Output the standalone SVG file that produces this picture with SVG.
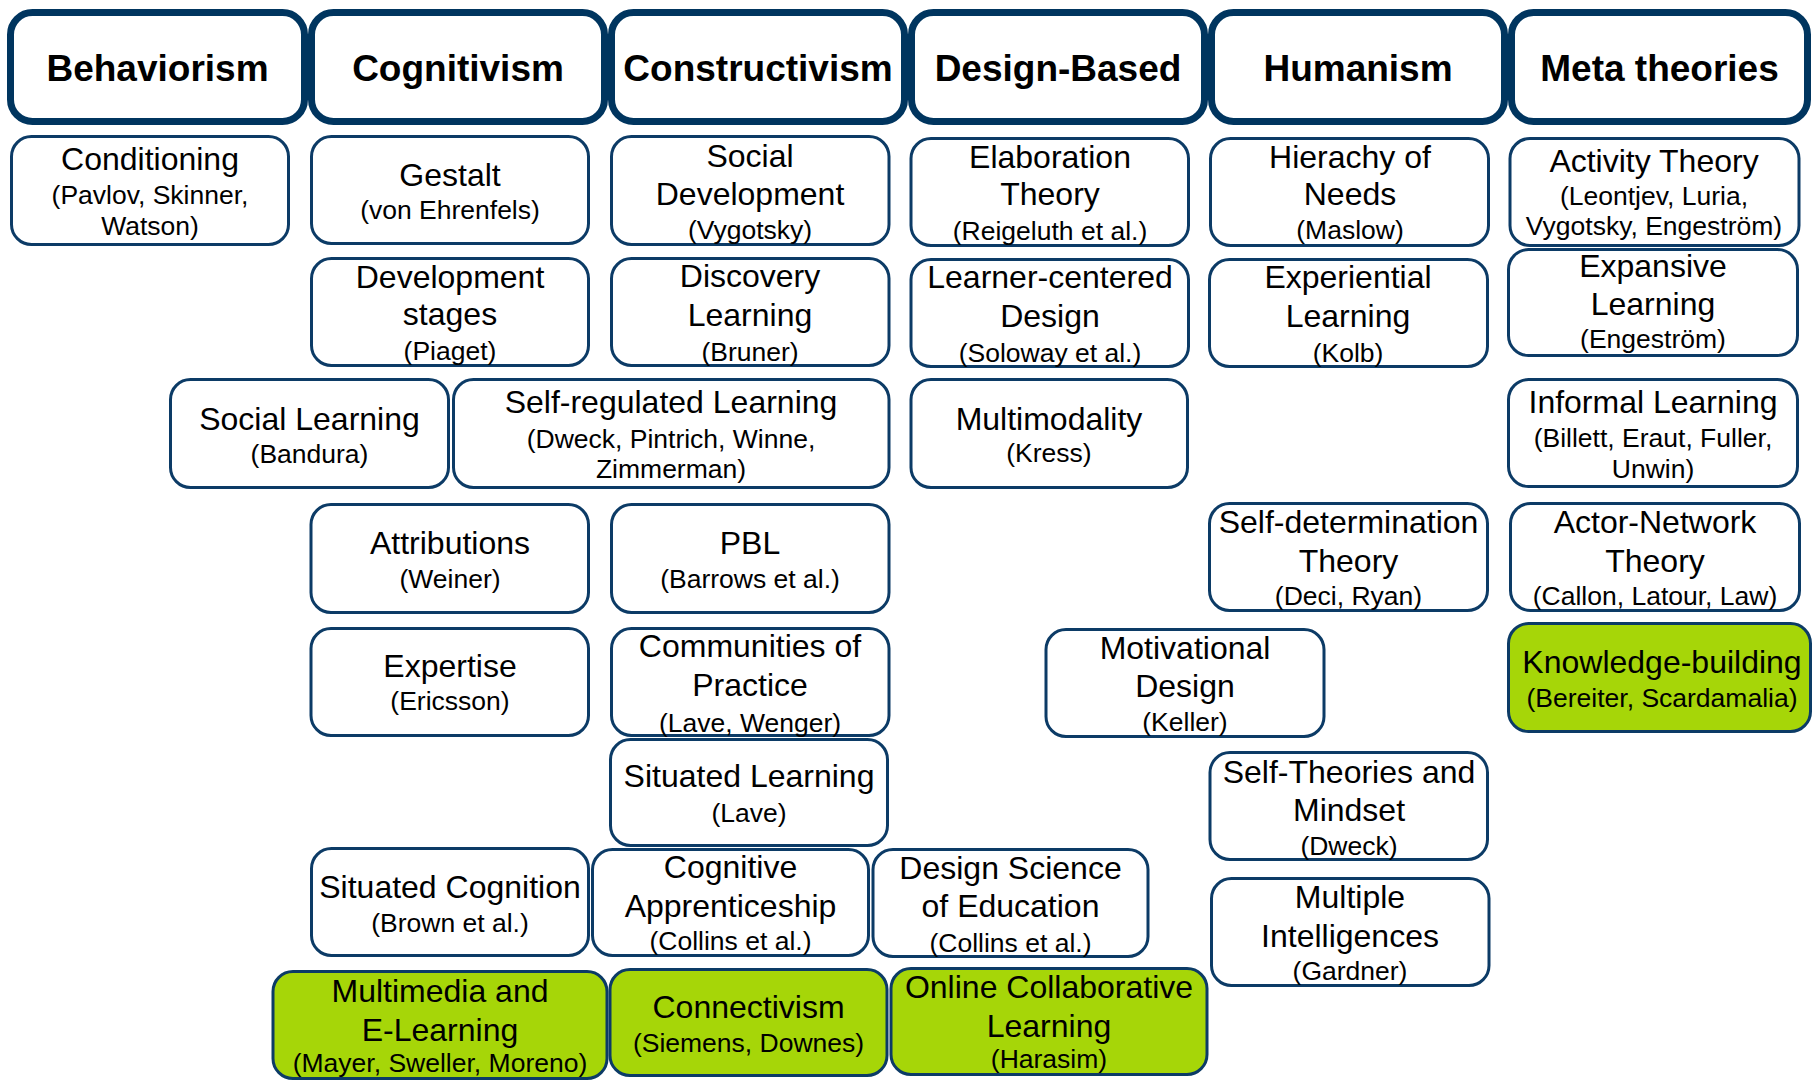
<svg xmlns="http://www.w3.org/2000/svg" width="1814" height="1080" viewBox="0 0 1814 1080">
<style>
.hdr rect{fill:#fff;stroke:#00355f;stroke-width:7}
.hdr text{font-family:"Liberation Sans",Arial,sans-serif;font-weight:bold;font-size:37px;text-anchor:middle;fill:#000}
.n rect{fill:#fff;stroke:#0c3b66;stroke-width:3}
.n.g rect{fill:#a6d608}
.n text{font-family:"Liberation Sans",Arial,sans-serif;text-anchor:middle;fill:#000}
.t{font-size:32px}
.s{font-size:26.5px}
</style>
<rect width="1814" height="1080" fill="#fff"/>
<g id="headers">
<g id="h-behaviorism" class="hdr"><rect x="10.5" y="12.5" width="294" height="109" rx="22"/><text x="157.5" y="81">Behaviorism</text></g>
<g id="h-cognitivism" class="hdr"><rect x="311.5" y="12.5" width="293" height="109" rx="22"/><text x="458" y="81">Cognitivism</text></g>
<g id="h-constructivism" class="hdr"><rect x="611.5" y="12.5" width="293" height="109" rx="22"/><text x="758" y="81">Constructivism</text></g>
<g id="h-design" class="hdr"><rect x="911.5" y="12.5" width="293" height="109" rx="22"/><text x="1058" y="81">Design-Based</text></g>
<g id="h-humanism" class="hdr"><rect x="1211.5" y="12.5" width="293" height="109" rx="22"/><text x="1358" y="81">Humanism</text></g>
<g id="h-meta" class="hdr"><rect x="1511.5" y="12.5" width="296" height="109" rx="22"/><text x="1659.5" y="81">Meta theories</text></g>
</g>
<g id="connectors"></g>
<g id="n-conditioning" class="n"><rect x="11.5" y="136.5" width="277" height="108" rx="20"/><text class="t" x="150" y="170">Conditioning</text><text class="s" x="150" y="204">(Pavlov, Skinner,</text><text class="s" x="150" y="235">Watson)</text></g>
<g id="n-gestalt" class="n"><rect x="311.5" y="136.5" width="277" height="107" rx="20"/><text class="t" x="450" y="186">Gestalt</text><text class="s" x="450" y="219">(von Ehrenfels)</text></g>
<g id="n-development" class="n"><rect x="311.5" y="258.5" width="277" height="107" rx="20"/><text class="t" x="450" y="288">Development</text><text class="t" x="450" y="325">stages</text><text class="s" x="450" y="360">(Piaget)</text></g>
<g id="n-socialdev" class="n"><rect x="611.5" y="136.5" width="277.5" height="108" rx="20"/><text class="t" x="750" y="167">Social</text><text class="t" x="750" y="205">Development</text><text class="s" x="750" y="239">(Vygotsky)</text></g>
<g id="n-discovery" class="n"><rect x="611.5" y="258.5" width="277.5" height="107" rx="20"/><text class="t" x="750" y="287">Discovery</text><text class="t" x="750" y="326">Learning</text><text class="s" x="750" y="361">(Bruner)</text></g>
<g id="n-elaboration" class="n"><rect x="911" y="138.5" width="277.5" height="107" rx="20"/><text class="t" x="1050" y="168">Elaboration</text><text class="t" x="1050" y="205">Theory</text><text class="s" x="1050" y="240">(Reigeluth et al.)</text></g>
<g id="n-learnercentered" class="n"><rect x="911" y="259.5" width="277.5" height="107" rx="20"/><text class="t" x="1050" y="288">Learner-centered</text><text class="t" x="1050" y="327">Design</text><text class="s" x="1050" y="362">(Soloway et al.)</text></g>
<g id="n-hierarchy" class="n"><rect x="1210.5" y="138.5" width="278" height="107" rx="20"/><text class="t" x="1350" y="168">Hierachy of</text><text class="t" x="1350" y="205">Needs</text><text class="s" x="1350" y="239">(Maslow)</text></g>
<g id="n-experiential" class="n"><rect x="1209.5" y="259.5" width="278" height="107" rx="20"/><text class="t" x="1348" y="288">Experiential</text><text class="t" x="1348" y="327">Learning</text><text class="s" x="1348" y="362">(Kolb)</text></g>
<g id="n-activity" class="n"><rect x="1510" y="138.5" width="289" height="107" rx="20"/><text class="t" x="1654" y="172">Activity Theory</text><text class="s" x="1654" y="205">(Leontjev, Luria,</text><text class="s" x="1654" y="235">Vygotsky, Engeström)</text></g>
<g id="n-expansive" class="n"><rect x="1508.5" y="249.5" width="289" height="106" rx="20"/><text class="t" x="1653" y="277">Expansive</text><text class="t" x="1653" y="315">Learning</text><text class="s" x="1653" y="348">(Engeström)</text></g>
<g id="n-sociallearning" class="n"><rect x="170.5" y="379.5" width="278" height="108" rx="20"/><text class="t" x="309.5" y="430">Social Learning</text><text class="s" x="309.5" y="463">(Bandura)</text></g>
<g id="n-selfregulated" class="n"><rect x="453.5" y="379.5" width="435.5" height="108" rx="20"/><text class="t" x="671" y="413">Self-regulated Learning</text><text class="s" x="671" y="448">(Dweck, Pintrich, Winne,</text><text class="s" x="671" y="478">Zimmerman)</text></g>
<g id="n-multimodality" class="n"><rect x="911" y="379.5" width="276.5" height="108" rx="20"/><text class="t" x="1049" y="430">Multimodality</text><text class="s" x="1049" y="462">(Kress)</text></g>
<g id="n-informal" class="n"><rect x="1508.5" y="379.5" width="289" height="107" rx="20"/><text class="t" x="1653" y="413">Informal Learning</text><text class="s" x="1653" y="447">(Billett, Eraut, Fuller,</text><text class="s" x="1653" y="478">Unwin)</text></g>
<g id="n-attributions" class="n"><rect x="311" y="504.5" width="277.5" height="108" rx="20"/><text class="t" x="450" y="554">Attributions</text><text class="s" x="450" y="588">(Weiner)</text></g>
<g id="n-pbl" class="n"><rect x="611.5" y="504.5" width="277.5" height="108" rx="20"/><text class="t" x="750" y="554">PBL</text><text class="s" x="750" y="588">(Barrows et al.)</text></g>
<g id="n-selfdetermination" class="n"><rect x="1209.5" y="503.5" width="278" height="107" rx="20"/><text class="t" x="1348.5" y="533">Self-determination</text><text class="t" x="1348.5" y="572">Theory</text><text class="s" x="1348.5" y="605">(Deci, Ryan)</text></g>
<g id="n-actornetwork" class="n"><rect x="1510.5" y="503.5" width="289" height="107" rx="20"/><text class="t" x="1655" y="533">Actor-Network</text><text class="t" x="1655" y="572">Theory</text><text class="s" x="1655" y="605">(Callon, Latour, Law)</text></g>
<g id="n-expertise" class="n"><rect x="311" y="628.5" width="277.5" height="107" rx="20"/><text class="t" x="450" y="677">Expertise</text><text class="s" x="450" y="710">(Ericsson)</text></g>
<g id="n-communities" class="n"><rect x="611.5" y="628.5" width="277.5" height="107" rx="20"/><text class="t" x="750" y="657">Communities of</text><text class="t" x="750" y="696">Practice</text><text class="s" x="750" y="732">(Lave, Wenger)</text></g>
<g id="n-motivational" class="n"><rect x="1046" y="629.5" width="278" height="107" rx="20"/><text class="t" x="1185" y="659">Motivational</text><text class="t" x="1185" y="697">Design</text><text class="s" x="1185" y="731">(Keller)</text></g>
<g id="n-knowledge" class="n g"><rect x="1508.5" y="623.5" width="302" height="108" rx="20"/><text class="t" x="1662" y="673">Knowledge-building</text><text class="s" x="1662" y="707">(Bereiter, Scardamalia)</text></g>
<g id="n-situatedlearning" class="n"><rect x="610.5" y="739.5" width="277" height="106" rx="20"/><text class="t" x="749" y="787">Situated Learning</text><text class="s" x="749" y="822">(Lave)</text></g>
<g id="n-selftheories" class="n"><rect x="1210" y="752.5" width="277.5" height="107" rx="20"/><text class="t" x="1349" y="783">Self-Theories and</text><text class="t" x="1349" y="821">Mindset</text><text class="s" x="1349" y="855">(Dweck)</text></g>
<g id="n-situatedcognition" class="n"><rect x="311.5" y="848.5" width="277" height="107" rx="20"/><text class="t" x="450" y="898">Situated Cognition</text><text class="s" x="450" y="932">(Brown et al.)</text></g>
<g id="n-cognitiveapp" class="n"><rect x="592.5" y="849.5" width="276" height="106" rx="20"/><text class="t" x="730.5" y="878">Cognitive</text><text class="t" x="730.5" y="917">Apprenticeship</text><text class="s" x="730.5" y="950">(Collins et al.)</text></g>
<g id="n-designscience" class="n"><rect x="873" y="849.5" width="275" height="107" rx="20"/><text class="t" x="1010.5" y="879">Design Science</text><text class="t" x="1010.5" y="917">of Education</text><text class="s" x="1010.5" y="952">(Collins et al.)</text></g>
<g id="n-multipleint" class="n"><rect x="1211.5" y="878.5" width="277.5" height="107" rx="20"/><text class="t" x="1350" y="908">Multiple</text><text class="t" x="1350" y="947">Intelligences</text><text class="s" x="1350" y="980">(Gardner)</text></g>
<g id="n-multimedia" class="n g"><rect x="273" y="971.5" width="334" height="107" rx="20"/><text class="t" x="440" y="1002">Multimedia and</text><text class="t" x="440" y="1041">E-Learning</text><text class="s" x="440" y="1072">(Mayer, Sweller, Moreno)</text></g>
<g id="n-connectivism" class="n g"><rect x="610" y="969.5" width="277" height="106" rx="20"/><text class="t" x="748.5" y="1018">Connectivism</text><text class="s" x="748.5" y="1052">(Siemens, Downes)</text></g>
<g id="n-onlinecollab" class="n g"><rect x="891" y="968.5" width="316" height="106" rx="20"/><text class="t" x="1049" y="998">Online Collaborative</text><text class="t" x="1049" y="1037">Learning</text><text class="s" x="1049" y="1068">(Harasim)</text></g>
</svg>
